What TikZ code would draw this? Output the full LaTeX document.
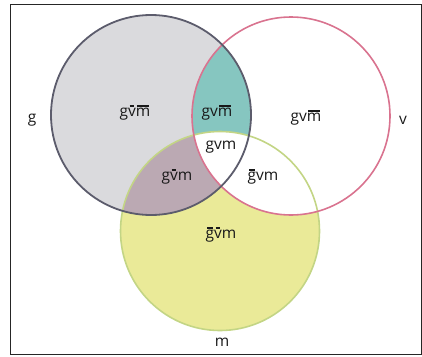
\documentclass[tikz,border=0pt]{standalone}
\usepackage{fontspec}
\setmainfont{Open Sans}
\newcommand\ob[1]{\leavevmode\setbox0\hbox{#1}\rlap{\kern0.1em\raisebox{0.66em}{\rule{\dimexpr\wd0-0.2em\relax}{0.075em}}}\box0}
\definecolor{ggrey}{HTML}{DADADD}
\definecolor{gline}{HTML}{5C5C6C}
\definecolor{vline}{HTML}{D9738F}
\definecolor{mline}{HTML}{C3D585}
\definecolor{myel}{HTML}{EAEA98}
\definecolor{gteal}{HTML}{86C6C0}
\definecolor{gmauve}{HTML}{BBA9B3}
\tikzset{lab/.style={font=\fontsize{15.5}{18}\selectfont, text=black!90}}
\begin{document}
\begin{tikzpicture}[x=1pt,y=-1pt]
\useasboundingbox (0,0) rectangle (422,356);
\node[draw=black!85, line width=1.3pt, minimum width=411pt, minimum height=350pt, anchor=north west, inner sep=0pt] (frame) at (10,4) {};
\coordinate (cg) at (151,115);
\coordinate (cv) at (291,116);
\coordinate (cm) at (220,231);
\fill[myel] (cm) circle (99.5);
\fill[ggrey] (cg) circle (100);
\begin{scope}
\clip (cg) circle (100);
\fill[gmauve] (cm) circle (99.5);
\fill[gteal] (cv) circle (99);
\end{scope}
\begin{scope}
\clip (cv) circle (99);
\fill[white] (cm) circle (99.5);
\end{scope}
\draw[mline, line width=1.6pt] (cm) circle (99.5);
\draw[vline, line width=1.6pt] (cv) circle (99);
\draw[gline, line width=1.8pt] (cg) circle (100);
\node[lab] (lg) at (32,120) {g};
\node[lab] (lv) at (403,120) {v};
\node[lab] (lm) at (222,342) {m};
\node[lab] (r1) at (135,113) {g\ob{v}\ob{m}};
\node[lab] (r2) at (217,113) {gv\ob{m}};
\node[lab] (r3) at (306,118) {gv\ob{m}};
\node[lab] (r4) at (221,147) {gvm};
\node[lab] (r5) at (177,177) {g\ob{v}m};
\node[lab] (r6) at (263,177) {\ob{g}vm};
\node[lab] (r7) at (221,235) {\ob{g}\ob{v}m};
\end{tikzpicture}
\end{document}
